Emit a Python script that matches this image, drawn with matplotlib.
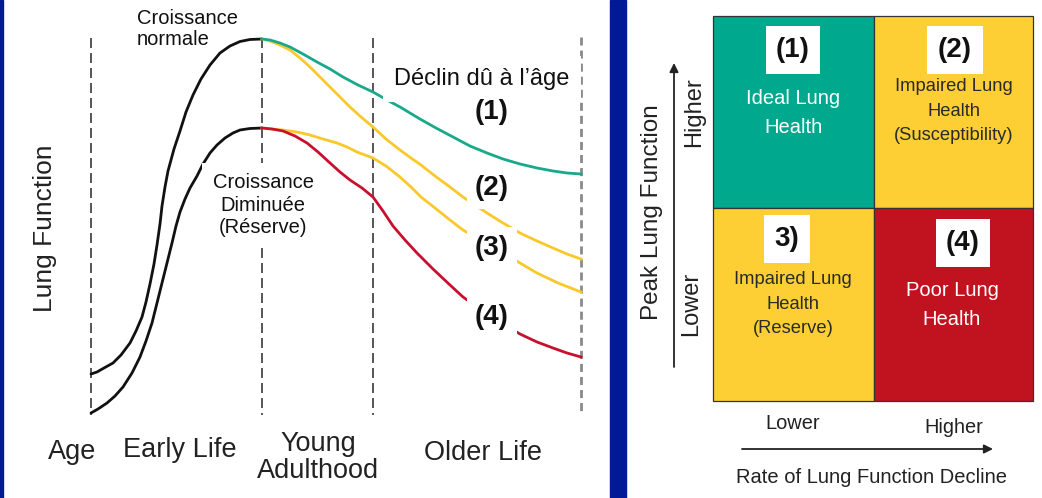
"""
Lung function over the life course (left) and the 2x2 lung health
classification (right). Values are read from the reference picture,
in pixel units of a 1042 x 498 canvas (y grows downwards).
"""

import matplotlib
matplotlib.use("Agg")
import matplotlib.pyplot as plt
from matplotlib.patches import Rectangle


# ----------------------------------------------------------------
# Fonts
# ----------------------------------------------------------------
plt.rcParams["font.family"] = ["Liberation Sans", "DejaVu Sans"]


# ----------------------------------------------------------------
# Data: left panel (age position, lung function as pixel height)
# ----------------------------------------------------------------
AGE_MARKS = [91, 262, 373, 581]          # dashed separators
STAGE_LABELS = ["Age", "Early Life", "Young\nAdulthood", "Older Life"]

normal_age = [91, 97, 104, 113, 121, 130, 136, 142, 146, 150, 154, 157, 160,
              162, 165, 168, 174, 180, 186, 193, 201, 210, 220, 230, 240,
              250, 262]
normal_lf = [374, 372, 368, 363, 355, 343, 331, 317, 302, 284, 264, 245, 224,
             206, 187, 171, 149, 131, 112, 95, 79, 65, 53, 46, 41.5,
             39.5, 39]

reduced_age = [91, 98, 107, 115, 123, 132, 140, 146, 152, 157, 162, 167, 172,
               176, 180, 185, 190, 197, 203, 210, 217, 225, 233, 240, 250, 262]
reduced_lf = [413, 409, 403, 396, 387, 373, 357, 341, 323, 303, 283, 263, 243,
              226, 212, 199, 188, 176, 164, 153, 145, 138, 133, 130, 128.5, 128]

# decline curves (1) .. (4)
decline1_age = [262, 270, 280, 290, 303, 317, 330, 343, 358, 373, 387, 400,
                410, 420, 436, 453, 470, 487, 503, 520, 537, 553, 567, 581]
decline1_lf = [39, 40, 43, 47, 54, 62, 69, 77, 85, 92, 100, 107,
               113, 119, 128, 137, 146, 153, 159, 164, 168, 171, 173, 174]

decline2_age = [262, 270, 280, 290, 300, 310, 320, 330, 340, 350, 361, 373,
                386, 400, 411, 421, 435, 450, 463, 475, 487, 503, 520, 537,
                553, 567, 581]
decline2_lf = [39, 41, 45, 50, 58, 67, 77, 87, 97, 107, 117, 127,
               139, 150, 158, 165, 176, 187, 197, 205, 213, 223, 233, 241,
               248, 254, 259]

decline3_age = [262, 272, 283, 297, 310, 323, 337, 347, 357, 365, 373, 386,
                400, 411, 421, 435, 450, 463, 483, 503, 520, 537, 558, 581]
decline3_lf = [128, 129, 130, 132, 135, 139, 143, 147, 152, 155, 158, 166,
               177, 187, 197, 208, 220, 230, 242, 253, 263, 273, 283, 292]

decline4_age = [262, 272, 283, 295, 307, 318, 330, 340, 350, 362, 373, 383,
                393, 405, 417, 433, 450, 463, 480, 500, 520, 537, 553, 567, 581]
decline4_lf = [128, 129, 131, 136, 143, 152, 163, 172, 180, 188, 197, 211,
               226, 240, 253, 269, 285, 297, 309, 322, 334, 342, 348, 353, 357]

DECLINE_LABELS = ["(1)", "(2)", "(3)", "(4)"]
DECLINE_LABEL_Y = [112, 188, 248, 317]

# ----------------------------------------------------------------
# Data: right panel (2 x 2 grid)
# ----------------------------------------------------------------
COL_EDGES = [713, 874, 1033]
ROW_EDGES = [16, 208, 401]
CELL_NUMBERS = [["(1)", "(2)"], ["3)", "(4)"]]
CELL_TEXTS = [["Ideal Lung\nHealth", "Impaired Lung\nHealth\n(Susceptibility)"],
              ["Impaired Lung\nHealth\n(Reserve)", "Poor Lung\nHealth"]]

TEAL = "#00A98E"
YELLOW = "#FDCF35"
RED = "#C1121F"
CELL_COLORS = [[TEAL, YELLOW], [YELLOW, RED]]
CELL_TEXT_COLORS = [["white", "#2a2a2a"], ["#2a2a2a", "white"]]

LINE_TEAL = "#17A98A"
LINE_YELLOW = "#F9C92C"
LINE_RED = "#C8102E"
BLUE = "#001A96"


# ================================================================
# Canvas
# ================================================================
fig = plt.figure(figsize=(10.42, 4.98), dpi=100)
ax = fig.add_axes([0, 0, 1, 1])
ax.set_xlim(0, 1042)
ax.set_ylim(498, 0)
ax.axis("off")

# blue frame pieces
ax.add_patch(Rectangle((0, 0), 3, 498, color=BLUE, zorder=5))
ax.add_patch(Rectangle((610, 0), 16, 498, color=BLUE, zorder=5))


# ================================================================
# Left panel
# ================================================================
for i, x in enumerate(AGE_MARKS):
    if i == len(AGE_MARKS) - 1:
        ax.plot([x, x], [37, 415], color="#8a8a8a", lw=2.0,
                dashes=(2.9, 1.8), zorder=1)
    else:
        ax.plot([x, x], [38, 415], color="#3a3a3a", lw=1.2,
                dashes=(6, 3), zorder=1)

ax.plot(normal_age, normal_lf, color="#111111", lw=2.0, zorder=2,
        solid_capstyle="round", solid_joinstyle="round")
ax.plot(reduced_age, reduced_lf, color="#111111", lw=2.0, zorder=2,
        solid_capstyle="round", solid_joinstyle="round")

curves = [(decline2_age, decline2_lf, LINE_YELLOW, 2),
          (decline1_age, decline1_lf, LINE_TEAL, 3),
          (decline3_age, decline3_lf, LINE_YELLOW, 2),
          (decline4_age, decline4_lf, LINE_RED, 3)]
for xs, ys, col, z in curves:
    ax.plot(xs, ys, color=col, lw=2.0, zorder=z, solid_joinstyle="round")

ax.text(137, 29, "Croissance\nnormale", fontsize=14.5, ha="left", va="center",
        linespacing=1.15, color="#111111")
ax.text(263, 205, "Croissance\nDiminuée\n(Réserve)", fontsize=14.5,
        ha="center", va="center", linespacing=1.25, color="#111111",
        bbox=dict(boxstyle="square,pad=0.5", facecolor="white",
                  edgecolor="none"), zorder=6)
ax.text(482, 79, "Déclin dû à l’âge", fontsize=17, ha="center", va="center",
        color="#111111", zorder=6,
        bbox=dict(boxstyle="square,pad=0.5", facecolor="white",
                  edgecolor="none"))

for label, y in zip(DECLINE_LABELS, DECLINE_LABEL_Y):
    ax.text(492, y, label, fontsize=20, fontweight="bold", ha="center",
            va="center", color="#111111", zorder=6,
            bbox=dict(boxstyle="square,pad=0.3", facecolor="white",
                      edgecolor="none"))

ax.text(45, 228, "Lung Function", fontsize=19, rotation=90, ha="center",
        va="center", color="#222222")

stage_x = [72, 180, 318, 483]
stage_y = [452, 450, 457, 453]
for label, x, y in zip(STAGE_LABELS, stage_x, stage_y):
    ax.text(x, y, label, fontsize=19.5, ha="center", va="center",
            linespacing=1.05, color="#222222")


# ================================================================
# Right panel
# ================================================================
for r in range(2):
    for c in range(2):
        x0, x1 = COL_EDGES[c], COL_EDGES[c + 1]
        y0, y1 = ROW_EDGES[r], ROW_EDGES[r + 1]
        ax.add_patch(Rectangle((x0, y0), x1 - x0, y1 - y0,
                               facecolor=CELL_COLORS[r][c],
                               edgecolor="#333333", lw=0.9, zorder=2))

num_pos = [[(793, 50), (955, 50)], [(787, 239), (963, 243)]]
text_pos = [[(793, 113), (954, 111)], [(793, 304), (952, 305)]]
text_size = [[14.5, 13.2], [13.2, 14.5]]
text_spacing = [[1.7, 1.6], [1.6, 1.7]]
for r in range(2):
    for c in range(2):
        nx, ny = num_pos[r][c]
        ax.text(nx, ny, CELL_NUMBERS[r][c], fontsize=20, fontweight="bold",
                ha="center", va="center", color="#111111", zorder=6,
                bbox=dict(boxstyle="square,pad=0.38", facecolor="white",
                          edgecolor="none"))
        tx, ty = text_pos[r][c]
        ax.text(tx, ty, CELL_TEXTS[r][c], fontsize=text_size[r][c],
                ha="center", va="center", linespacing=text_spacing[r][c],
                color=CELL_TEXT_COLORS[r][c], zorder=6)

# axis arrows
arrow = dict(arrowstyle="-|>", lw=1.3, color="#222222", mutation_scale=13,
             shrinkA=0, shrinkB=0)
ax.annotate("", xy=(674, 63), xytext=(674, 367), arrowprops=arrow)
ax.annotate("", xy=(993, 449), xytext=(742, 449), arrowprops=arrow)

ax.text(652, 212, "Peak Lung Function", fontsize=17.5, rotation=90,
        ha="center", va="center", color="#222222")
ax.text(694, 112, "Higher", fontsize=17, rotation=90, ha="center",
        va="center", color="#222222")
ax.text(691, 304, "Lower", fontsize=17, rotation=90, ha="center",
        va="center", color="#222222")
ax.text(793, 423, "Lower", fontsize=14.4, ha="center", va="center",
        color="#222222")
ax.text(954, 427, "Higher", fontsize=14.4, ha="center", va="center",
        color="#222222")
ax.text(872, 477, "Rate of Lung Function Decline", fontsize=14.5,
        ha="center", va="center", color="#222222")

fig.savefig("out.png", dpi=100)
